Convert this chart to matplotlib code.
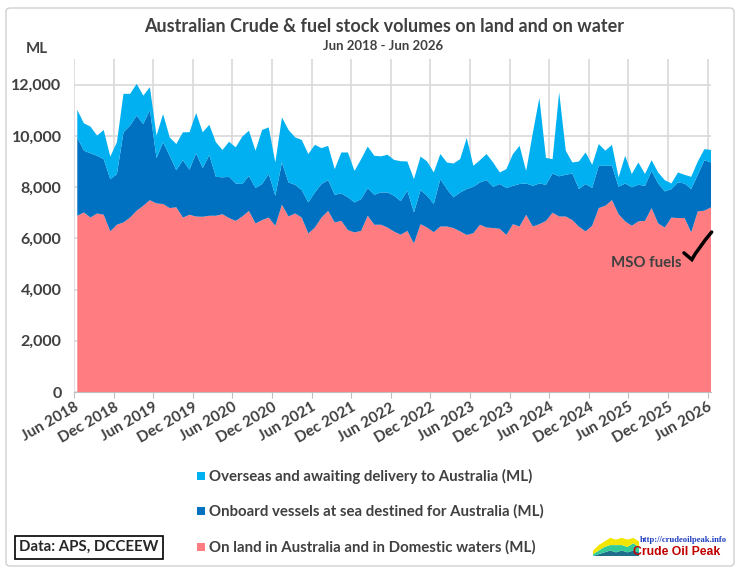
import matplotlib
matplotlib.use("Agg")
import numpy as np
import matplotlib.pyplot as plt
from matplotlib.patches import Rectangle, FancyBboxPatch
from matplotlib.path import Path
from matplotlib.patches import PathPatch

plt.rcParams['font.family'] = ['Lato', 'DejaVu Sans']

# monthly stocks, Jun 2018 .. Jun 2026 (ML)
land = [6880, 7010, 6810, 6970, 6920, 6270, 6530, 6620, 6810, 7080,
        7270, 7490, 7360, 7340, 7180, 7210, 6810, 6920, 6850, 6840,
        6880, 6880, 6940, 6790, 6680, 6850, 7070, 6580, 6710, 6810,
        6490, 7310, 6850, 6970, 6810, 6190, 6420, 6810, 7070, 6620,
        6680, 6320, 6230, 6290, 6880, 6530, 6530, 6420, 6260, 6140,
        6290, 5800, 6550, 6420, 6240, 6460, 6460, 6400, 6270, 6130,
        6200, 6530, 6420, 6400, 6370, 6130, 6550, 6460, 6920, 6460,
        6550, 6680, 7000, 6850, 6850, 6710, 6450, 6270, 6490, 7180,
        7270, 7490, 6940, 6660, 6490, 6660, 6680, 7180, 6580, 6420,
        6810, 6790, 6790, 6230, 7050, 7080, 7210]
vessels = [3060, 2410, 2510, 2250, 2170, 2040, 1970, 3520, 3590, 3710,
           3190, 3520, 1770, 2410, 2040, 1450, 2240, 1760, 2470, 1900,
           2370, 1520, 1440, 1610, 1460, 1270, 1370, 1380, 1410, 1700,
           1170, 1650, 1330, 1120, 1070, 1210, 1370, 1310, 1200, 1080,
           1070, 1280, 1170, 1240, 1080, 1170, 1260, 1370, 1400, 1310,
           1570, 1210, 1330, 1240, 1100, 1850, 1460, 1200, 1520, 1790,
           1810, 1650, 1850, 1610, 1750, 1830, 1500, 1660, 1220, 1590,
           1590, 1410, 1530, 1570, 1630, 1820, 1470, 1850, 1470, 1650,
           1560, 1340, 1070, 1480, 1500, 1430, 1370, 1450, 1560, 1410,
           1110, 1390, 1350, 1690, 1430, 1970, 1750]
overseas = [1070, 1070, 1040, 790, 1140, 880, 1250, 1500, 1240, 1240,
            1110, 890, 880, 1100, 720, 1020, 1090, 1460, 1570, 1400,
            1180, 1350, 1070, 1370, 1410, 1850, 1760, 1460, 2110, 1820,
            1300, 1760, 2050, 1850, 1960, 1890, 1860, 1400, 1340, 1000,
            1600, 1750, 1230, 1560, 1620, 1520, 1410, 1470, 1400, 1560,
            1140, 1300, 1310, 1340, 1230, 980, 1040, 1320, 1300, 2000,
            820, 870, 1020, 950, 450, 740, 1240, 1490, 490, 2050,
            3340, 1050, 560, 3280, 940, 430, 1080, 1230, 910, 850,
            590, 820, 370, 1080, 520, 870, 460, 420, 430, 440,
            220, 390, 340, 480, 520, 430, 490]

tick_labels = ['Jun 2018', 'Dec 2018', 'Jun 2019', 'Dec 2019', 'Jun 2020',
               'Dec 2020', 'Jun 2021', 'Dec 2021', 'Jun 2022', 'Dec 2022',
               'Jun 2023', 'Dec 2023', 'Jun 2024', 'Dec 2024', 'Jun 2025',
               'Dec 2025', 'Jun 2026']
series_names = ['Overseas and awaiting delivery to Australia (ML)',
                'Onboard vessels at sea destined for Australia (ML)',
                'On land in Australia and in Domestic waters (ML)']

# little logo area chart
logo_a = [2, 3, 3, 4, 3, 4, 4, 3, 3]
logo_b = [1, 2, 3, 3, 4, 3, 3, 4, 3]
logo_c = [0, 1, 2, 3, 2, 3, 2, 3, 2]

C_LAND = '#FF7C80'
C_VES = '#0070C0'
C_OVS = '#00B0F0'
TXT = '#404040'
FS = 10.8

fig = plt.figure(figsize=(7.44, 5.73), dpi=100)
fig.patches.append(FancyBboxPatch((6 / 744, 7 / 573), 728 / 744, 558 / 573,
                                  boxstyle='round,pad=0,rounding_size=0.006',
                                  transform=fig.transFigure, fill=False,
                                  edgecolor='#D0D0D0', lw=1.0))

ax = fig.add_axes([74 / 744, 1 - 392 / 573, 637 / 744, 333 / 573])
x = np.arange(len(land)) + 0.5
ax.stackplot(x, land, vessels, overseas, colors=[C_LAND, C_VES, C_OVS],
             lw=0, zorder=2)

ax.set_xlim(0, 96.5)
ax.set_ylim(0, 13000)
ax.set_yticks(range(0, 13000, 2000))
ax.set_yticklabels(['{:,}'.format(v) for v in range(0, 13000, 2000)])
ax.set_xticks(range(0, 97, 6))
ax.set_xticklabels(tick_labels, rotation=30, ha='right', va='top',
                   rotation_mode='anchor')
ax.grid(True, color='#D9D9D9', lw=1.2, zorder=0)
ax.set_axisbelow(True)
for s in ['top', 'right', 'left']:
    ax.spines[s].set_visible(False)
ax.spines['bottom'].set_color('#BFBFBF')
ax.tick_params(axis='y', length=0, pad=9, labelsize=11.5, labelcolor=TXT)
ax.tick_params(axis='x', length=4, color='#BFBFBF', pad=2, labelsize=11,
               labelcolor=TXT)
for lab in ax.get_xticklabels() + ax.get_yticklabels():
    lab.set_fontweight('bold')

# MSO fuels note with check mark
ax.text(92.0, 5050, 'MSO fuels', ha='right', va='center', fontsize=FS,
        fontweight='bold', color=TXT)
check = Path([(92.4, 5430), (93.6, 5170), (94.5, 5600), (96.6, 6245)],
             [Path.MOVETO, Path.LINETO, Path.CURVE3, Path.CURVE3])
ax.add_patch(PathPatch(check, fill=False, lw=2.5, color='black',
                       capstyle='round', clip_on=False, zorder=5))

fig.text(384 / 744, 1 - 27 / 573,
         'Australian Crude & fuel stock volumes on land and on water',
         ha='center', va='center', fontsize=13, fontweight='bold', color=TXT)
fig.text(383 / 744, 1 - 46 / 573, 'Jun 2018 - Jun 2026', ha='center',
         va='center', fontsize=9.5, fontweight='bold', color=TXT)
fig.text(37 / 744, 1 - 49 / 573, 'ML', ha='center', va='center',
         fontsize=FS, fontweight='bold', color=TXT)

# legend rows
for name, col, yp in zip(series_names, [C_OVS, C_VES, C_LAND], [476, 511, 547]):
    fig.patches.append(Rectangle((197 / 744, 1 - (yp + 4) / 573), 8 / 744,
                                 8 / 573, transform=fig.transFigure,
                                 facecolor=col, edgecolor='none'))
    fig.text(209 / 744, 1 - yp / 573, name, ha='left', va='center',
             fontsize=FS, fontweight='bold', color=TXT)

fig.text(19 / 744, 1 - 547 / 573, 'Data: APS, DCCEEW', ha='left',
         va='center', fontsize=FS, fontweight='bold', color='#262626',
         bbox=dict(boxstyle='square,pad=0.3', facecolor='white',
                   edgecolor='black', lw=1.2))

# logo
lax = fig.add_axes([593 / 744, 1 - 556 / 573, 46 / 744, 20 / 573])
lx = np.arange(len(logo_a))
lax.stackplot(lx, logo_c, logo_b, logo_a,
              colors=['#1F6E8C', '#33CC99', '#F2E600'], lw=0)
lax.set_xlim(0, len(logo_a) - 1)
lax.set_ylim(0, 11)
lax.axis('off')
fig.text(683 / 744, 1 - 540 / 573, 'http://crudeoilpeak.info', ha='center',
         va='center', fontsize=6.2, fontweight='bold', color='#1F3FBF',
         family='Liberation Serif')
fig.text(677 / 744, 1 - 552 / 573, 'Crude Oil Peak', ha='center',
         va='center', fontsize=8.8, fontweight='bold', color='#C00000',
         family='Liberation Sans')

fig.savefig('out.png', dpi=100)
